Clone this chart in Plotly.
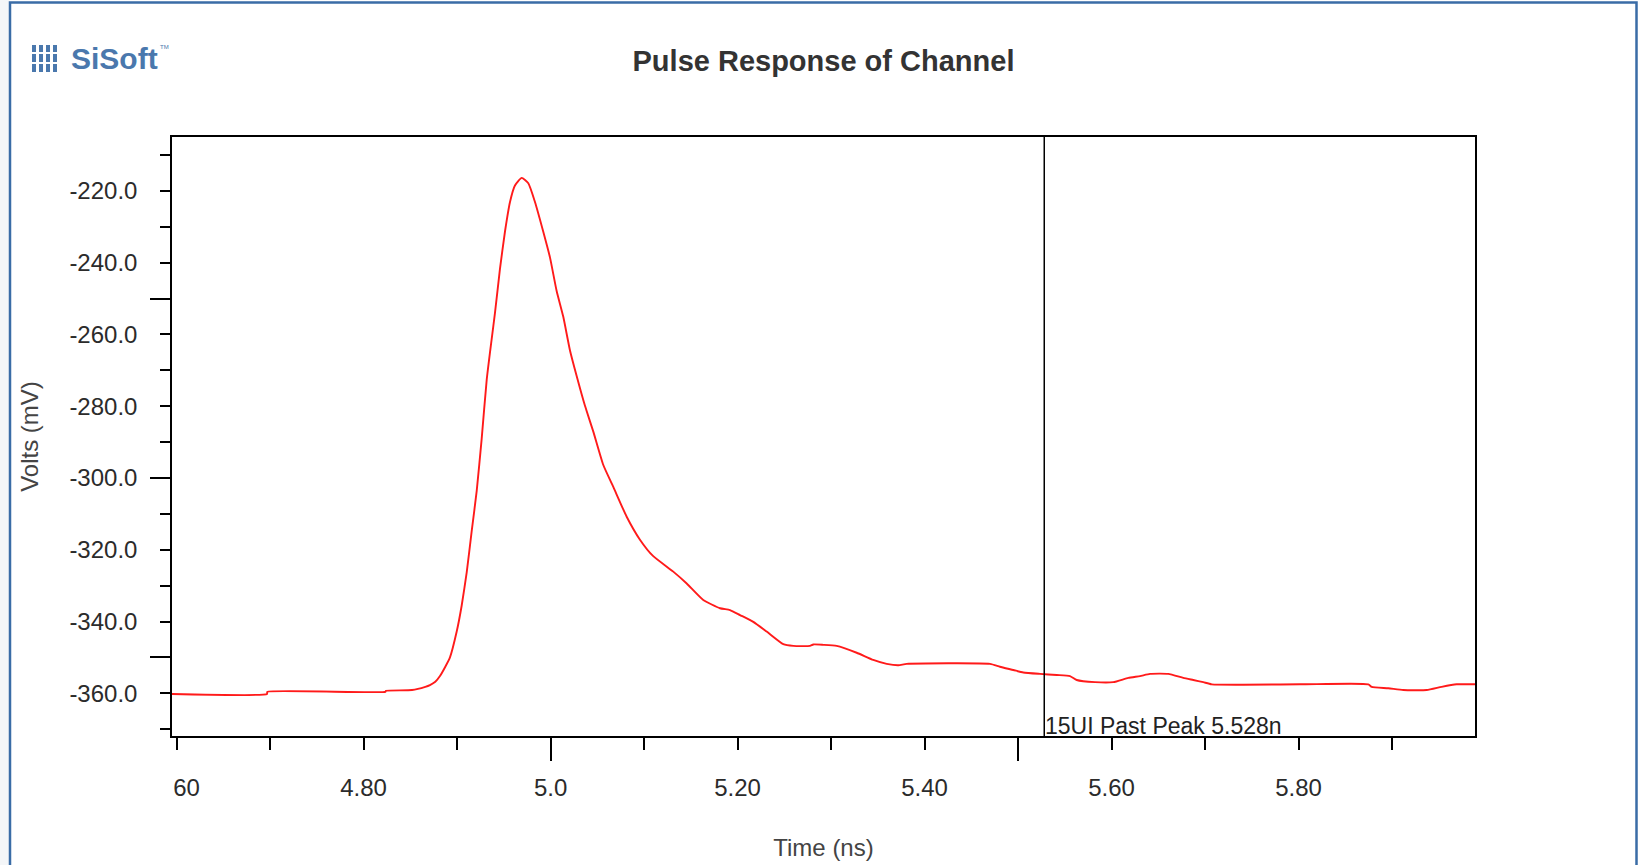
import plotly.graph_objects as go

# ---------------- data ----------------
time_ns = [4.5951, 4.6967, 4.6970, 4.8232, 4.8240, 4.8518, 4.8660, 4.8710, 4.8767,
           4.8817, 4.8874, 4.8924, 4.8996, 4.9049, 4.9103, 4.9156, 4.9210, 4.9263,
           4.9317, 4.9370, 4.9405, 4.9459, 4.9512, 4.9566, 4.9619, 4.9691, 4.9762,
           4.9833, 4.9922, 4.9994, 5.0065, 5.0136, 5.0207, 5.0279, 5.0368, 5.0457,
           5.0564, 5.0671, 5.0814, 5.0956, 5.1098, 5.1312, 5.1456, 5.1633, 5.1812,
           5.1919, 5.2026, 5.2168, 5.2311, 5.2489, 5.2596, 5.2774, 5.2810, 5.2917,
           5.3060, 5.3274, 5.3451, 5.3595, 5.3719, 5.3809, 5.4700, 5.4806, 5.4949,
           5.5056, 5.5234, 5.5413, 5.5555, 5.5627, 5.5822, 5.6018, 5.6179, 5.6304,
           5.6411, 5.6606, 5.6767, 5.6874, 5.6981, 5.7071, 5.8015, 5.8746, 5.8782,
           5.8960, 5.9120, 5.9370, 5.9530, 5.9691, 5.9887]
volts_mv = [-360.2, -360.2, -359.6, -359.6, -359.3, -359.1, -358.2, -357.7, -356.8,
            -355.2, -352.6, -350.0, -342.8, -335.6, -326.3, -314.9, -303.6, -289.1,
            -272.6, -261.3, -254.1, -241.7, -231.4, -223.1, -218.5, -216.4, -217.9,
            -223.1, -231.4, -238.6, -247.9, -255.1, -264.4, -271.6, -279.9, -287.1,
            -296.4, -302.5, -310.8, -317.2, -321.8, -326.1, -329.4, -334.0, -336.3,
            -336.8, -338.2, -340.1, -342.8, -346.3, -346.8, -346.8, -346.4, -346.5,
            -346.8, -348.7, -350.7, -351.8, -352.2, -351.8, -351.8, -352.6, -353.5,
            -354.2, -354.6, -354.9, -355.2, -356.3, -356.9, -356.9, -355.7, -355.2,
            -354.6, -354.6, -355.7, -356.3, -356.9, -357.5, -357.5, -357.5, -358.2,
            -358.6, -359.1, -359.1, -358.2, -357.5, -357.5]

marker_time = 5.528
marker_label = "15UI Past Peak 5.528n"

x_range = [4.5951, 5.9887]
y_range = [-371.9, -205.0]

x_tick_values = [4.6, 4.7, 4.8, 4.9, 5.0, 5.1, 5.2, 5.3, 5.4, 5.5, 5.6, 5.7, 5.8, 5.9]
x_tick_text = ["\u00a0\u00a0\u00a060", "", "4.80", "", "5.0", "", "5.20", "", "5.40", "",
               "5.60", "", "5.80", ""]
x_long_ticks = [5.0, 5.5]

y_tick_values = list(range(-370, -209, 10))
y_label_values = [-360, -340, -320, -300, -280, -260, -240, -220]
y_long_ticks = [-350, -300, -250]

title_text = "Pulse Response of Channel"
x_title = "Time (ns)"
y_title = "Volts (mV)"

# ---------------- layout geometry ----------------
W, H = 1638, 865
L, R, T, B = 172, 1475, 137, 736


def px(X):
    return (X - L) / (R - L)


def py(Y):
    return (B - Y) / (B - T)


y_tick_text = [f"{v:.1f}" if v in y_label_values else "" for v in y_tick_values]

fig = go.Figure()
fig.add_trace(go.Scatter(x=time_ns, y=volts_mv, mode="lines",
                         line=dict(color="#ff1a1a", width=1.9, shape="spline", smoothing=0.5),
                         showlegend=False, hoverinfo="x+y"))
# empty trace for the overlay axes that carry the long ticks
fig.add_trace(go.Scatter(x=[], y=[], xaxis="x2", yaxis="y2", showlegend=False))

tick_font = dict(family="Arial, Liberation Sans, sans-serif", size=24, color="#2b2b2b")

fig.update_layout(
    width=W, height=H,
    margin=dict(l=L, r=W - R, t=T, b=H - B),
    paper_bgcolor="white", plot_bgcolor="white",
    font=dict(family="Arial, Liberation Sans, sans-serif", color="#333333"),
    title=dict(text=f"<b>{title_text}</b>", x=0.5, xref="paper", xanchor="center",
               y=1 - 61 / H, yanchor="middle",
               font=dict(size=29, color="#333333")),
    xaxis=dict(range=x_range, showgrid=False, zeroline=False, automargin=False,
               showline=True, linecolor="black", linewidth=1.5, mirror=True,
               tickmode="array", tickvals=x_tick_values, ticktext=x_tick_text,
               ticks="outside", ticklen=12, tickwidth=1.5, tickcolor="black",
               tickfont=tick_font, ticklabelstandoff=17,
               title=dict(text=x_title, font=dict(size=24, color="#444444"), standoff=40)),
    yaxis=dict(range=y_range, showgrid=False, zeroline=False, automargin=False,
               showline=True, linecolor="black", linewidth=1.5, mirror=True,
               tickmode="array", tickvals=y_tick_values, ticktext=y_tick_text,
               ticks="outside", ticklen=10, tickwidth=1.5, tickcolor="black",
               tickfont=tick_font, ticklabelstandoff=18,
               title=dict(text=y_title, font=dict(size=24, color="#444444"), standoff=24)),
    xaxis2=dict(range=x_range, overlaying="x", anchor="y2", side="bottom", automargin=False,
                showgrid=False, zeroline=False, showline=False,
                tickmode="array", tickvals=x_long_ticks, showticklabels=False,
                ticks="outside", ticklen=24, tickwidth=1.5, tickcolor="black"),
    yaxis2=dict(range=y_range, overlaying="y", anchor="x2", side="left", automargin=False,
                showgrid=False, zeroline=False, showline=False,
                tickmode="array", tickvals=y_long_ticks, showticklabels=False,
                ticks="outside", ticklen=21, tickwidth=1.5, tickcolor="black"),
)

# marker line and its label
fig.add_shape(type="line", xref="x", yref="paper", x0=marker_time, x1=marker_time,
              y0=0, y1=1, line=dict(color="black", width=1.5))
fig.add_annotation(text=marker_label, xref="x", yref="paper", x=marker_time, y=0,
                   xanchor="left", yanchor="bottom", showarrow=False, xshift=-1, yshift=-5,
                   font=dict(family="Arial, Liberation Sans, sans-serif", size=23, color="#222222"))

# page frame
fig.add_shape(type="rect", xref="paper", yref="paper", x0=px(0), x1=px(9.5),
              y0=py(H + 10), y1=py(-10), line=dict(width=0), fillcolor="#f4f6f8", layer="below")
fig.add_shape(type="rect", xref="paper", yref="paper", x0=px(10), x1=px(1636.5),
              y0=py(H + 10), y1=py(2.5), line=dict(color="#3a6ca6", width=2.5))

# logo
fig.add_annotation(text="<b>SiSoft</b>", xref="paper", yref="paper", x=px(69), y=py(58),
                   xanchor="left", yanchor="middle", showarrow=False,
                   font=dict(family="Arial, Liberation Sans, sans-serif", size=30, color="#4a78ad"))
fig.add_annotation(text="TM", xref="paper", yref="paper", x=px(158), y=py(47),
                   xanchor="left", yanchor="middle", showarrow=False,
                   font=dict(family="Arial, Liberation Sans, sans-serif", size=6, color="#4a78ad"))
for cx in [34, 41, 48, 55]:
    for (y0, y1) in [(45, 52), (54, 62), (64, 72)]:
        fig.add_shape(type="line", xref="paper", yref="paper", x0=px(cx), x1=px(cx),
                      y0=py(y0), y1=py(y1), line=dict(color="#4a78ad", width=4))

fig.write_html("out.html")
